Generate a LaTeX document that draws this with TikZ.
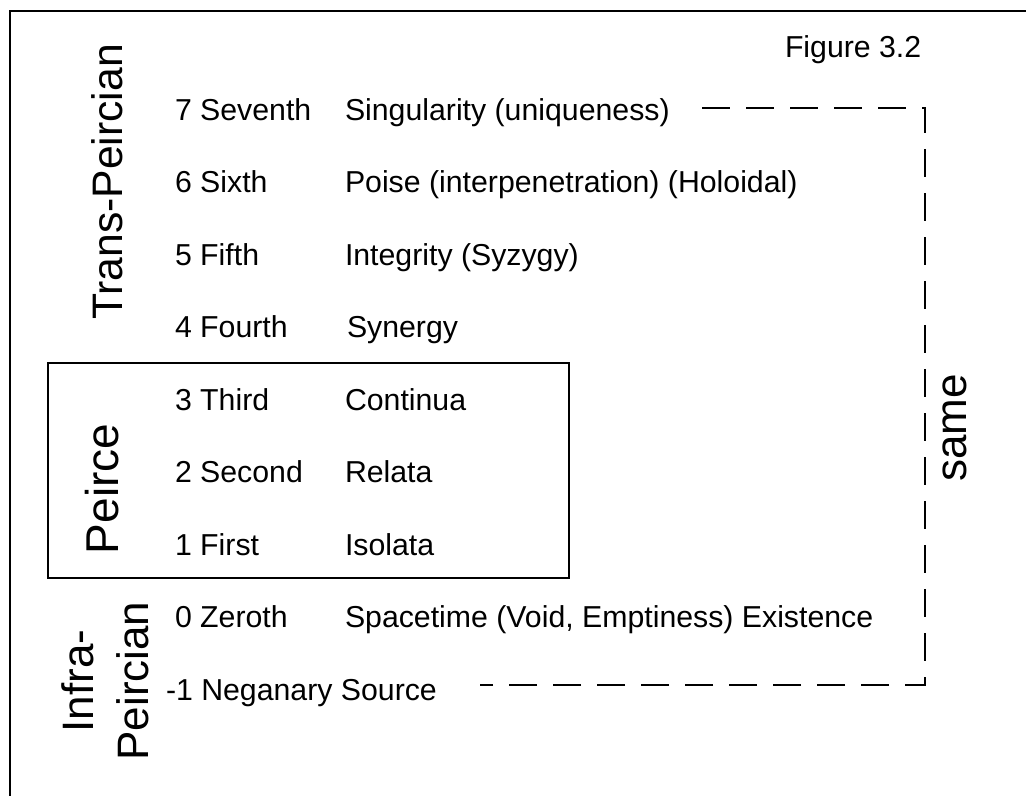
\documentclass[tikz,border=0pt]{standalone}
\usepackage{fontspec}
\setmainfont{Liberation Sans}
\begin{document}
\begin{tikzpicture}[x=0.75pt,y=-0.75pt,
  every node/.style={inner sep=0pt, outer sep=0pt},
  lvl/.style={anchor=base west, font=\fontsize{22.7pt}{27pt}\selectfont},
  grp/.style={rotate=90, anchor=base, font=\fontsize{33pt}{38pt}\selectfont},
  frameline/.style={line width=1.5pt},
  groupbox/.style={line width=1.2pt},
  dashlink/.style={line width=1.5pt, dash pattern=on 21pt off 12pt}]
\useasboundingbox (0,0) rectangle (1026,796);

% outer frame (top and left edges)
\draw[frameline] (1026,11) -- (10,11) -- (10,796);

% caption
\node[lvl] (fig) at (785,57) {Figure 3.2};

% box round the Peircean categories
\draw[groupbox] (48,363) rectangle (569,578);

% levels: ordinal and name
\node[lvl] (n7) at (175,120)   {7 Seventh};
\node[lvl] (t7) at (345,120)   {Singularity (uniqueness)};
\node[lvl] (n6) at (175,192.5) {6 Sixth};
\node[lvl] (t6) at (345,192.5) {Poise (interpenetration) (Holoidal)};
\node[lvl] (n5) at (175,265)   {5 Fifth};
\node[lvl] (t5) at (345,265)   {Integrity (Syzygy)};
\node[lvl] (n4) at (175,337.5) {4 Fourth};
\node[lvl] (t4) at (347,337.5) {Synergy};
\node[lvl] (n3) at (175,410)   {3 Third};
\node[lvl] (t3) at (345,410)   {Continua};
\node[lvl] (n2) at (175,482.5) {2 Second};
\node[lvl] (t2) at (345,482.5) {Relata};
\node[lvl] (n1) at (175,555)   {1 First};
\node[lvl] (t1) at (345,555)   {Isolata};
\node[lvl] (n0) at (175,627.5) {0 Zeroth};
\node[lvl] (t0) at (345,627.5) {Spacetime (Void, Emptiness) Existence};
\node[lvl] (nm1) at (166,700)  {-1 Neganary Source};

% group labels
\node[grp, font=\fontsize{32pt}{38pt}\selectfont] (trans) at (122,182) {Trans-Peircian};
\node[grp, font=\fontsize{34.5pt}{38pt}\selectfont] (peirce) at (118,489) {Peirce};
\node[grp] (infraA) at (93,681) {Infra-};
\node[grp] (infraB) at (148,681) {Peircian};
\node[grp] (same) at (966,428) {same};

% dashed bracket linking the top and bottom levels
\coordinate (dtop) at (702,108);
\coordinate (ctop) at (925,108);
\coordinate (cbot) at (925,685);
\coordinate (dbot) at (480,685);
\draw[dashlink] (dtop) -- (ctop) -- (cbot) -- (dbot);
\end{tikzpicture}
\end{document}
